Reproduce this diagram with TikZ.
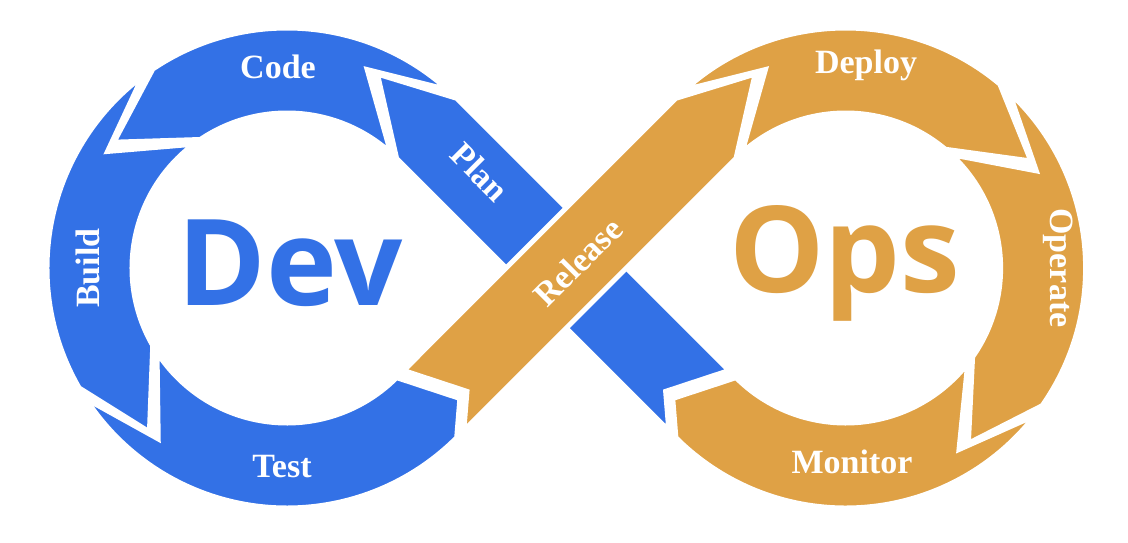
\documentclass[tikz,border=0pt]{standalone}
\usepackage{fontspec}
\setmainfont{Liberation Serif}
\newfontfamily\bigfont{Open Sans}
\usetikzlibrary{calc}
\definecolor{dblue}{HTML}{3371E6}
\definecolor{dorange}{HTML}{DFA145}
\begin{document}
\begin{tikzpicture}[x=0.5pt,y=0.5pt,
  seg/.style={draw=white,line width=2.5pt,line join=miter},
  lab/.style={text=white,font=\fontsize{17}{20}\selectfont\bfseries},
  big/.style={font=\bigfont\fontsize{60}{66}\selectfont\bfseries}]
\def\ro{240}\def\ri{155}\def\rm{197.5}\def\rt{214}\def\h{42.5}
\useasboundingbox (0,0) rectangle (1128,542);
\fill[white] (0,0) rectangle (1128,542);
\coordinate (L) at (287,274);
\coordinate (R) at (845.6,274);
\coordinate (TL) at ($(L)+(-45:\rm)$);
\coordinate (TB) at ($(R)+(225:\rm)$);
% #1 centre, #2 tail angle, #3 head angle, #4 signed tip offset
\newcommand\arcseg[5]{\fill[#5,seg] ([shift={(#1)}]#2:\ro) arc[start angle=#2,end angle=#3,radius=\ro] -- ([shift={(#1)}]#3+#4:\rt) -- ([shift={(#1)}]#3:\ri) arc[start angle=#3,end angle=#2,radius=\ri] -- ([shift={(#1)}]#2+#4:\rt) -- cycle;}
% Plan (blue diagonal)
\fill[dblue,seg] ($(TB)+(135:10)+(225:\h)$) -- ([shift={(L)}]45:\ri) -- ([shift={(L)}]65:\rt) -- ([shift={(L)}]45:\ro) -- ($(TB)+(135:10)+(45:\h)$) -- ($(TB)+(135:40)+(225:17)$) -- cycle;
\arcseg{L}{48}{124}{20}{dblue}
\arcseg{L}{127}{210}{20}{dblue}
% Test
\fill[dblue,seg] ([shift={(L)}]213:\ro) arc[start angle=213,end angle=315,radius=\ro] -- ($(TL)+(45:30)+(-45:17)$) -- ([shift={(L)}]315:\ri) arc[start angle=315,end angle=213,radius=\ri] -- ([shift={(L)}]233:\rt) -- cycle;
% Release
\fill[dorange,seg] ($(TL)+(45:10)+(-45:\h)$) -- ([shift={(R)}]135:\ri) -- ([shift={(R)}]115:\rt) -- ([shift={(R)}]135:\ro) -- ($(TL)+(45:10)+(135:\h)$) -- ($(TL)+(45:40)+(-45:17)$) -- cycle;
\arcseg{R}{132}{50}{-20}{dorange}
\arcseg{R}{47}{-35}{-20}{dorange}
% Monitor
\fill[dorange,seg] ([shift={(R)}]-38:\ro) arc[start angle=-38,end angle=-135,radius=\ro] -- ($(TB)+(135:30)+(225:17)$) -- ([shift={(R)}]-135:\ri) arc[start angle=-135,end angle=-38,radius=\ri] -- ([shift={(R)}]-58:\rt) -- cycle;
% labels
\node[lab] (code) at (278,475) {Code};
\node[lab,rotate=90] (build) at (88,274) {Build};
\node[lab] (test) at (282,75) {Test};
\node[lab,rotate=-45] (plan) at (480,370) {Plan};
\node[lab,rotate=45] (release) at (578,280) {Release};
\node[lab] (deploy) at (866,477) {Deploy};
\node[lab,rotate=-90] (operate) at (1058,274) {Operate};
\node[lab] (monitor) at (852,80) {Monitor};
\node[big,text=dblue] (dev) at (290,279) {Dev};
\node[big,text=dorange] (ops) at (845,279) {Ops};
\end{tikzpicture}
\end{document}
